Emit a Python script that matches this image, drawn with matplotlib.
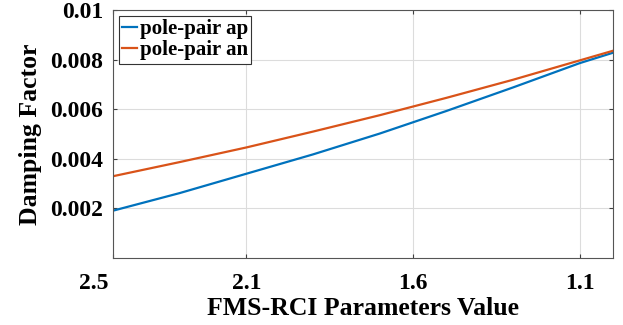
import matplotlib
matplotlib.use('Agg')
import matplotlib.pyplot as plt
from matplotlib.transforms import ScaledTranslation

# values (x axis is reversed)
fms_rci = [2.5, 2.3, 2.1, 1.9, 1.7, 1.5, 1.3, 1.1, 1.0]
damp_ap = [0.00191, 0.00262, 0.00340, 0.00418, 0.00502, 0.00593, 0.00688, 0.00786, 0.00828]
damp_an = [0.00330, 0.00387, 0.00446, 0.00510, 0.00576, 0.00646, 0.00719, 0.00797, 0.00836]

x_ticks = [2.5, 2.1, 1.6, 1.1]
x_tick_labels = ['2.5', '2.1', '1.6', '1.1']
y_ticks = [0.002, 0.004, 0.006, 0.008, 0.01]
y_tick_labels = ['0.002', '0.004', '0.006', '0.008', '0.01']

plt.rcParams['font.family'] = ['Liberation Serif', 'DejaVu Serif']
plt.rcParams['font.weight'] = 'bold'

fig = plt.figure(figsize=(6.23, 3.25), dpi=100)
ax = fig.add_axes([0.1814, 0.206, 0.8026, 0.763])

ax.plot(fms_rci, damp_ap, color='#0072BD', lw=1.6, label='pole-pair ap')
ax.plot(fms_rci, damp_an, color='#D95319', lw=1.6, label='pole-pair an')

ax.set_xlim(2.5, 1.0)
ax.set_ylim(0, 0.01)
ax.set_xticks(x_ticks)
ax.set_xticklabels(x_tick_labels)
ax.set_yticks(y_ticks)
ax.set_yticklabels(y_tick_labels)

ax.grid(True, color='#dcdcdc', lw=0.8)
ax.set_axisbelow(True)
ax.tick_params(direction='in', length=3, width=0.8, color='#404040',
               top=True, right=True, labelsize=17)
ax.tick_params(axis='x', pad=11)
ax.tick_params(axis='y', pad=7)
for s in ax.spines.values():
    s.set_color('#555555')
    s.set_linewidth(0.8)

# first x label sits left of its tick in the original
first = ax.get_xticklabels()[0]
first.set_transform(first.get_transform() + ScaledTranslation(-0.19, 0, fig.dpi_scale_trans))

ax.set_xlabel('FMS-RCI Parameters Value', fontsize=18.5, fontweight='bold', labelpad=2)
ax.set_ylabel('Damping Factor', fontsize=18.5, fontweight='bold', labelpad=6)

leg = ax.legend(loc='upper left', fontsize=15, handlelength=0.7, handletextpad=0.15,
                borderpad=0.15, labelspacing=0.05, borderaxespad=0.3,
                fancybox=False, framealpha=1)
leg.get_frame().set_edgecolor('#333333')
leg.get_frame().set_linewidth(0.8)

fig.savefig('out.png', dpi=100)
